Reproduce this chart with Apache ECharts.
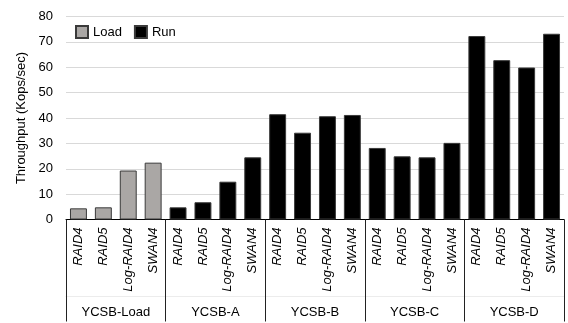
<!DOCTYPE html>
<html>
<head>
<meta charset="utf-8">
<script src="https://cdn.jsdelivr.net/npm/echarts@6/dist/echarts.min.js"></script>
<style>
  html, body { margin: 0; padding: 0; background: #fff; }
  #chart { width: 568px; height: 323px; }
</style>
</head>
<body>
<div id="chart"></div>
<script>
// Workload groups and the storage schemes measured in each
const groups = ['YCSB-Load', 'YCSB-A', 'YCSB-B', 'YCSB-C', 'YCSB-D'];
const schemes = ['RAID4', 'RAID5', 'Log-RAID4', 'SWAN4'];

// Throughput (Kops/sec) per scheme
const loadPhase = [4.4, 4.8, 19.3, 22.4];
const ycsbA = [4.8, 6.8, 14.9, 24.5];
const ycsbB = [41.5, 34.2, 40.7, 41.2];
const ycsbC = [28.2, 24.9, 24.5, 30.2];
const ycsbD = [72.3, 62.8, 59.9, 73.2];

const yTicks = { min: 0, max: 80, interval: 10 };

// One category per (group, scheme) pair
const categories = [];
groups.forEach(() => schemes.forEach(s => categories.push(s)));

const loadData = categories.map((_, i) => (i < 4 ? loadPhase[i] : null));
const runValues = [].concat(ycsbA, ycsbB, ycsbC, ycsbD);
const runData = categories.map((_, i) => (i < 4 ? null : runValues[i - 4]));

const font = 'Liberation Sans, Arial, sans-serif';

const chart = echarts.init(document.getElementById('chart'), null, { renderer: 'canvas' });
chart.setOption({
  animation: false,
  textStyle: { fontFamily: font },
  grid: { left: 66, right: 4, top: 16.5, bottom: 103.5 },
  legend: {
    left: 75, top: 25, padding: 0,
    icon: 'rect',
    itemWidth: 12, itemHeight: 12, itemGap: 12,
    textStyle: { fontSize: 13, color: '#000', fontFamily: font },
    data: ['Load', 'Run']
  },
  xAxis: [
    {
      type: 'category',
      data: categories,
      axisLine: { lineStyle: { color: '#000', width: 1 } },
      axisTick: {
        show: true,
        interval: (idx) => idx % 4 === 0,
        length: 102,
        lineStyle: { color: '#222', width: 1 }
      },
      axisLabel: {
        interval: 0,
        rotate: 90,
        margin: 8,
        fontSize: 13,
        fontStyle: 'italic',
        color: '#000',
        fontFamily: font
      }
    },
    {
      type: 'category',
      position: 'bottom',
      offset: 77,
      data: groups,
      axisLine: { show: true, lineStyle: { color: '#ececec', width: 1 } },
      axisTick: { show: false },
      axisLabel: { interval: 0, margin: 9, fontSize: 13, color: '#000', fontFamily: font }
    }
  ],
  yAxis: {
    type: 'value',
    min: yTicks.min, max: yTicks.max, interval: yTicks.interval,
    name: 'Throughput (Kops/sec)',
    nameLocation: 'middle',
    nameGap: 37,
    nameTextStyle: { fontSize: 13, color: '#000', fontFamily: font },
    axisLine: { show: false },
    axisTick: { show: false },
    axisLabel: { fontSize: 13, color: '#000', margin: 13, fontFamily: font },
    splitLine: { lineStyle: { color: '#d9d9d9', width: 1 } }
  },
  series: [
    {
      name: 'Load', type: 'bar', stack: 'all',
      barWidth: '68%',
      data: loadData,
      itemStyle: { color: '#aaa7a5', borderColor: '#3a3a3a', borderWidth: 1 }
    },
    {
      name: 'Run', type: 'bar', stack: 'all',
      barWidth: '68%',
      data: runData,
      itemStyle: { color: '#000', borderColor: '#3a3a3a', borderWidth: 1 }
    }
  ]
});
</script>
</body>
</html>
